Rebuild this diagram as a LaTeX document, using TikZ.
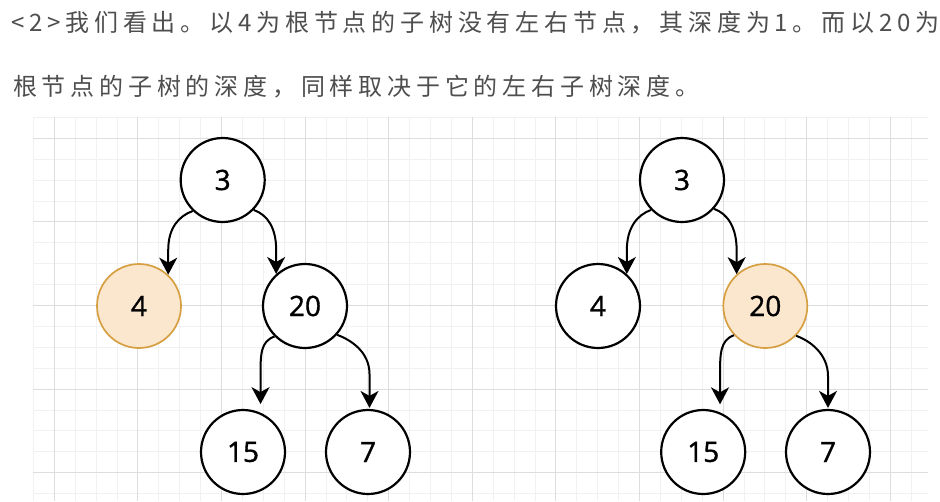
\documentclass[tikz,border=0pt]{standalone}
\usepackage{fontspec}
\usetikzlibrary{arrows.meta,calc}
\newfontfamily\cjktext[LetterSpace=20]{Noto Sans CJK SC}
\newfontfamily\numfont[FakeBold=1.2]{Open Sans}
\definecolor{txtgray}{HTML}{4E4E4E}
\definecolor{gridmajor}{HTML}{DDDDDD}
\definecolor{gridminor}{HTML}{F1F1F1}
\definecolor{hlfill}{HTML}{FBE6CE}
\definecolor{hlstroke}{HTML}{D6A042}
\tikzset{
  treenode/.style={circle,draw=black,line width=2.2pt,fill=white,minimum size=84pt,inner sep=0pt,
    font=\numfont\fontsize{28}{32}\selectfont},
  hlnode/.style={treenode,fill=hlfill,draw=hlstroke,line width=1.7pt},
  edge/.style={line width=2pt,-{Stealth[length=17pt,width=18pt,inset=5pt]}},
  headline/.style={anchor=base west,inner sep=0pt,text=txtgray,font=\cjktext\fontsize{24}{28}\selectfont}
}
\begin{document}
\begin{tikzpicture}[x=1pt,y=-1pt]
\useasboundingbox (0,0) rectangle (940,501);
\fill[white] (0,0) rectangle (940,501);
% grid
\begin{scope}
\clip (33,116.5) rectangle (928,501);
\foreach \k in {-1,...,41}{
  \pgfmathsetmacro{\xx}{54.3+20.9*\k}
  \draw[gridminor,line width=1pt] (\xx,116.5) -- (\xx,501);
}
\foreach \k in {-1,...,17}{
  \pgfmathsetmacro{\yy}{138.3+20.9*\k}
  \draw[gridminor,line width=1pt] (33,\yy) -- (928,\yy);
}
\foreach \k in {0,4,...,40}{
  \pgfmathsetmacro{\xx}{54.3+20.9*\k}
  \draw[gridmajor,line width=1pt] (\xx,116.5) -- (\xx,501);
}
\foreach \k in {0,4,...,16}{
  \pgfmathsetmacro{\yy}{138.3+20.9*\k}
  \draw[gridmajor,line width=1pt] (33,\yy) -- (928,\yy);
}
\end{scope}
% text
\node[headline] (t1) at (11,31.5) {<2>我们看出。以4为根节点的子树没有左右节点，其深度为1。而以20为};
\node[headline] (t2) at (13,95) {根节点的子树的深度，同样取决于它的左右子树深度。};
% left tree
\node[treenode] (L3) at (222.7,180) {3};
\node[hlnode] (L4) at (139,306) {4};
\node[treenode] (L20) at (305,306) {20};
\node[treenode] (L15) at (243,452) {15};
\node[treenode] (L7) at (368,452) {7};
% right tree
\node[treenode] (R3) at (682,180) {3};
\node[treenode] (R4) at (598,306) {4};
\node[hlnode] (R20) at (765.3,306) {20};
\node[treenode] (R15) at (703.2,452) {15};
\node[treenode] (R7) at (828,452) {7};
% left edges
\draw[edge] (L3.226) .. controls ($(L3.226)+(-14,5)$) and (L4.47 |- 0,228) .. (L4.47 |- 0,250) -- (L4.47);
\draw[edge] (L3.316) .. controls ($(L3.316)+(14,5)$) and (L20.132 |- 0,228) .. (L20.132 |- 0,250) -- (L20.132);
\draw[edge,shorten >=8.5pt] (L20.225) .. controls ($(L20.225)+(-14,5)$) and (L15.66 |- 0,354) .. (L15.66 |- 0,376) -- (L15.66);
\draw[edge,shorten >=1pt] (L20.318) .. controls ($(L20.318)+(14,5)$) and (L7.88 |- 0,352) .. (L7.88 |- 0,374) -- (L7.88);
% right edges
\draw[edge] (R3.224) .. controls ($(R3.224)+(-14,5)$) and (R4.48 |- 0,228) .. (R4.48 |- 0,250) -- (R4.48);
\draw[edge] (R3.318) .. controls ($(R3.318)+(14,5)$) and (R20.132 |- 0,228) .. (R20.132 |- 0,250) -- (R20.132);
\draw[edge,shorten >=8pt] (R20.223) .. controls ($(R20.223)+(-14,5)$) and (R15.67 |- 0,354) .. (R15.67 |- 0,376) -- (R15.67);
\draw[edge,shorten >=1pt] (R20.316) .. controls ($(R20.316)+(14,5)$) and (R7.90 |- 0,354) .. (R7.90 |- 0,376) -- (R7.90);
\end{tikzpicture}
\end{document}
